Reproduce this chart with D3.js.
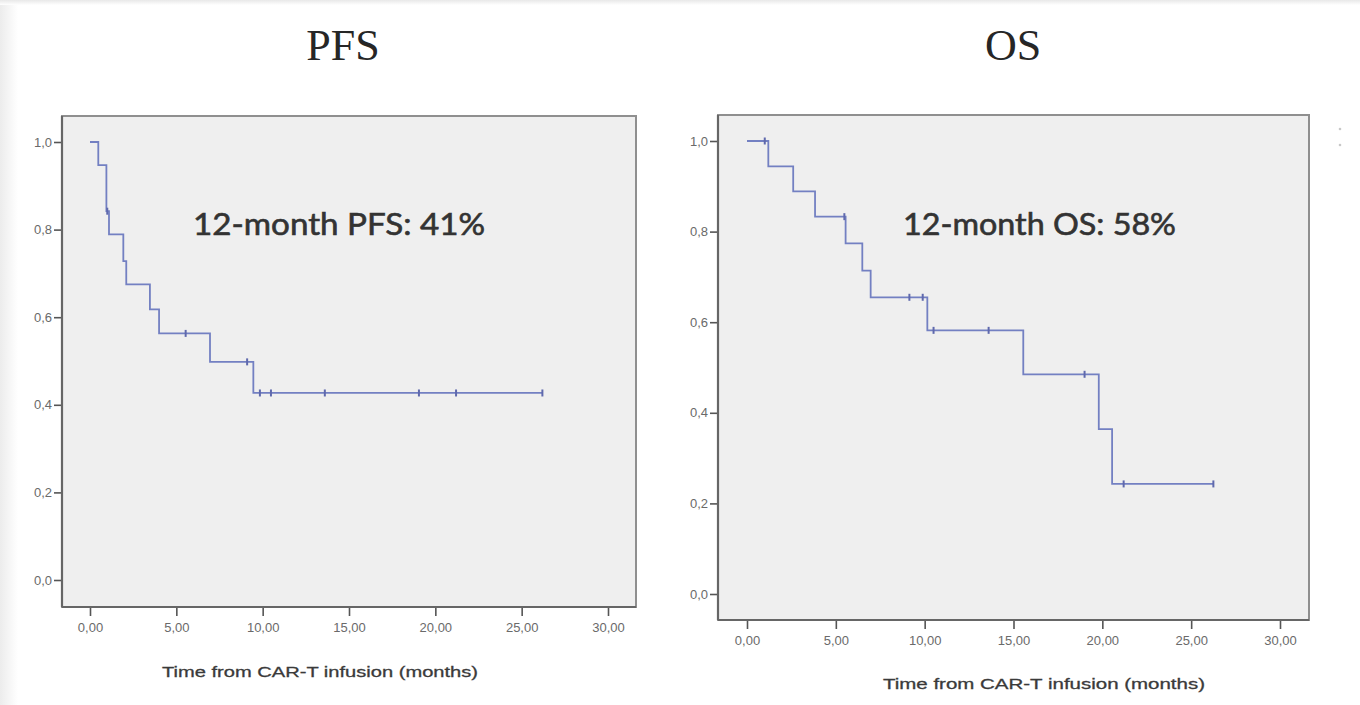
<!DOCTYPE html>
<html>
<head>
<meta charset="utf-8">
<script src="https://cdn.jsdelivr.net/npm/d3@7"></script>
<style>
  html, body { margin: 0; padding: 0; background: #ffffff; }
  svg { display: block; }
</style>
</head>
<body>
<svg id="chart" width="1360" height="705"></svg>
<script>
// ---------- DATA ----------
const panelTitles = ["PFS", "OS"];
const annotations = ["12-month PFS: 41%", "12-month OS: 58%"];
const xAxisTitle = "Time from CAR-T infusion (months)";
const xTickValues = [0, 5, 10, 15, 20, 25, 30];
const yTickValues = [0, 0.2, 0.4, 0.6, 0.8, 1.0];

// PFS step curve: times where survival changes, and the new survival level
const pfsTime = [0, 0.48, 0.95, 1.1, 1.93, 2.1, 3.47, 4.0, 6.95, 9.46];
const pfsSurv = [1.0, 0.947, 0.842, 0.789, 0.728, 0.675, 0.618, 0.563, 0.498, 0.427];
const pfsEnd = 26.2;
const pfsCensorTime = [1.0, 5.54, 9.1, 9.84, 10.48, 13.6, 19.05, 21.2, 26.2];
const pfsCensorSurv = [0.842, 0.563, 0.498, 0.427, 0.427, 0.427, 0.427, 0.427, 0.427];

// OS step curve
const osTime = [0, 1.2, 2.6, 3.83, 5.55, 6.49, 6.96, 10.15, 15.55, 19.8, 20.55];
const osSurv = [1.0, 0.944, 0.889, 0.833, 0.774, 0.714, 0.655, 0.582, 0.485, 0.364, 0.243];
const osEnd = 26.25;
const osCensorTime = [1.0, 5.48, 9.14, 9.89, 10.5, 13.6, 19.0, 21.2, 26.25];
const osCensorSurv = [1.0, 0.833, 0.655, 0.655, 0.582, 0.582, 0.485, 0.243, 0.243];

// ---------- LAYOUT ----------
const panels = [
  { title: panelTitles[0], note: annotations[0],
    time: pfsTime, surv: pfsSurv, end: pfsEnd, cT: pfsCensorTime, cS: pfsCensorSurv,
    xr: [90, 608], yr: [580, 142], frame: { x0: 62, x1: 636, y0: 116, y1: 607 },
    titleX: 343, titleY: 60, noteX: 193, noteY: 235, noteLen: 292,
    tickLabelY: 632, axisTitleX: 320, axisTitleY: 677, axisTitleLen: 316 },
  { title: panelTitles[1], note: annotations[1],
    time: osTime, surv: osSurv, end: osEnd, cT: osCensorTime, cS: osCensorSurv,
    xr: [747, 1280], yr: [594, 141], frame: { x0: 718, x1: 1309, y0: 115, y1: 620 },
    titleX: 1013, titleY: 60, noteX: 903, noteY: 235, noteLen: 273,
    tickLabelY: 645, axisTitleX: 1044, axisTitleY: 689, axisTitleLen: 322 }
];

const svg = d3.select("#chart");

// soft grey page edges (screenshot border)
const defs = svg.append("defs");
const gl = defs.append("linearGradient").attr("id", "edgeL").attr("x1", "0").attr("x2", "1").attr("y1", "0").attr("y2", "0");
gl.append("stop").attr("offset", "0").attr("stop-color", "#ececec");
gl.append("stop").attr("offset", "1").attr("stop-color", "#ffffff");
const gt = defs.append("linearGradient").attr("id", "edgeT").attr("x1", "0").attr("x2", "0").attr("y1", "0").attr("y2", "1");
gt.append("stop").attr("offset", "0").attr("stop-color", "#e8e8e8");
gt.append("stop").attr("offset", "1").attr("stop-color", "#ffffff");
svg.append("rect").attr("x", 0).attr("y", 0).attr("width", 18).attr("height", 705).attr("fill", "url(#edgeL)");
svg.append("rect").attr("x", 0).attr("y", 0).attr("width", 1360).attr("height", 5).attr("fill", "url(#edgeT)");

const fmtX = v => d3.format(".2f")(v).replace(".", ",");
const fmtY = v => d3.format(".1f")(v).replace(".", ",");

panels.forEach(p => {
  const x = d3.scaleLinear().domain([0, 30]).range(p.xr);
  const y = d3.scaleLinear().domain([0, 1]).range(p.yr);
  const g = svg.append("g");
  const f = p.frame;

  // title
  g.append("text").attr("x", p.titleX).attr("y", p.titleY)
    .attr("text-anchor", "middle")
    .attr("font-family", "'Liberation Serif', 'DejaVu Serif', serif")
    .attr("font-size", 44).attr("fill", "#262626").text(p.title);

  // plot frame
  g.append("rect").attr("x", f.x0).attr("y", f.y0)
    .attr("width", f.x1 - f.x0).attr("height", f.y1 - f.y0)
    .attr("fill", "#efefef").attr("stroke", "#8f8f8f").attr("stroke-width", 2);

  // y axis
  const ya = g.append("g").attr("transform", `translate(${f.x0},0)`)
    .call(d3.axisLeft(y).tickValues(yTickValues).tickFormat(fmtY).tickSize(8).tickPadding(2).tickSizeOuter(0));
  ya.select(".domain").remove();
  ya.selectAll(".tick line").attr("stroke", "#555").attr("stroke-width", 1.6);
  ya.selectAll(".tick text").attr("font-family", "'Liberation Sans', Arial, sans-serif")
    .attr("font-size", 13).attr("fill", "#6a6a6a");

  // x axis
  const xa = g.append("g").attr("transform", `translate(0,${f.y1})`)
    .call(d3.axisBottom(x).tickValues(xTickValues).tickFormat(fmtX).tickSize(9).tickSizeOuter(0));
  xa.select(".domain").remove();
  xa.selectAll(".tick line").attr("stroke", "#555").attr("stroke-width", 1.6);
  xa.selectAll(".tick text").attr("font-family", "'Liberation Sans', Arial, sans-serif")
    .attr("font-size", 13).attr("fill", "#6a6a6a")
    .attr("y", p.tickLabelY - f.y1).attr("dy", null);

  // darker left & bottom axis lines
  g.append("line").attr("x1", f.x0).attr("x2", f.x0).attr("y1", f.y0).attr("y2", f.y1)
    .attr("stroke", "#666").attr("stroke-width", 2.2);
  g.append("line").attr("x1", f.x0).attr("x2", f.x1).attr("y1", f.y1).attr("y2", f.y1)
    .attr("stroke", "#666").attr("stroke-width", 2.2);

  // axis title
  g.append("text").attr("x", p.axisTitleX).attr("y", p.axisTitleY)
    .attr("text-anchor", "middle")
    .attr("font-family", "'Liberation Sans', Arial, sans-serif")
    .attr("font-size", 15).attr("fill", "#3a3a3a")
    .attr("stroke", "#3a3a3a").attr("stroke-width", 0.3)
    .attr("textLength", p.axisTitleLen).attr("lengthAdjust", "spacingAndGlyphs")
    .text(xAxisTitle);

  // step curve
  const pts = p.time.map((t, i) => [t, p.surv[i]]);
  pts.push([p.end, p.surv[p.surv.length - 1]]);
  const line = d3.line().x(d => x(d[0])).y(d => y(d[1])).curve(d3.curveStepAfter);
  g.append("path").attr("d", line(pts)).attr("fill", "none")
    .attr("stroke", "#7380c2").attr("stroke-width", 1.8);

  // censor marks
  g.selectAll(".cens").data(p.cT.map((t, i) => [t, p.cS[i]])).enter()
    .append("line").attr("class", "cens")
    .attr("x1", d => x(d[0])).attr("x2", d => x(d[0]))
    .attr("y1", d => y(d[1]) - 3.5).attr("y2", d => y(d[1]) + 3.5)
    .attr("stroke", "#5f69ad").attr("stroke-width", 2);

  // annotation
  g.append("text").attr("x", p.noteX).attr("y", p.noteY)
    .attr("font-family", "Lato, 'Open Sans', sans-serif")
    .attr("font-size", 30).attr("fill", "#333")
    .attr("stroke", "#333").attr("stroke-width", 0.6)
    .attr("textLength", p.noteLen).attr("lengthAdjust", "spacingAndGlyphs")
    .text(p.note);
});

// tiny grey dots at far right (screenshot artifact)
svg.selectAll(".dot").data([129, 145]).enter().append("circle")
  .attr("cx", 1340).attr("cy", d => d).attr("r", 1.3).attr("fill", "#c8c8c8");
</script>
</body>
</html>
